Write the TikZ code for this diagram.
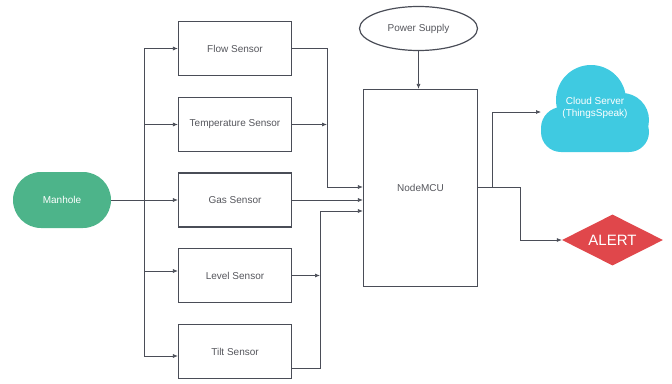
\documentclass[tikz,border=0pt]{standalone}
\usepackage{fontspec}
\setmainfont{Liberation Sans}
\usetikzlibrary{shapes.geometric,arrows.meta}
\definecolor{linegray}{HTML}{4A4D57}
\definecolor{textgray}{HTML}{55565C}
\definecolor{manholegreen}{HTML}{4DB48A}
\definecolor{cloudcyan}{HTML}{3FCAE1}
\definecolor{alertred}{HTML}{E0474B}
\begin{document}
\begin{tikzpicture}[x=1pt,y=-1pt,
  font=\fontsize{10}{12}\selectfont,
  sensorbox/.style={draw=linegray,line width=1.2pt,minimum width=113pt,minimum height=54pt,text=textgray},
  wire/.style={draw=linegray,line width=0.7pt},
  arr/.style={wire,-{Latex[length=5pt,width=4pt]}}]
\useasboundingbox (0,0) rectangle (672,383);

% source and sensors
\node[fill=manholegreen,rounded corners=28pt,minimum width=98pt,minimum height=56pt,text=white] (manhole) at (62,200) {Manhole};
\node[sensorbox] (flow) at (235,48.5) {Flow Sensor};
\node[sensorbox] (temp) at (235,124.5) {Temperature Sensor};
\node[sensorbox] (gas) at (235,200) {Gas Sensor};
\node[sensorbox] (level) at (235,275.5) {Level Sensor};
\node[sensorbox] (tilt) at (235,351.5) {Tilt Sensor};

% controller and power
\node[draw=linegray,line width=1.2pt,minimum width=114pt,minimum height=197pt,text=textgray] (mcu) at (420.5,188) {NodeMCU};
\node[ellipse,draw=linegray,line width=1.2pt,minimum width=118pt,minimum height=44pt,text=textgray] (power) at (418.5,28.5) {Power Supply};

% cloud
\fill[cloudcyan] (591,100) circle (35) (622,120) circle (27) (562,128) circle (21);
\fill[cloudcyan,rounded corners=20pt] (541,112) rectangle (649,152);
\node[text=white,align=center] (cloud) at (595,108) {Cloud Server\\(ThingsSpeak)};
\coordinate (cloudin) at (541,112);

% alert
\node[diamond,aspect=1.95,fill=alertred,minimum width=101pt,minimum height=51pt,inner sep=0pt,text=white,font=\fontsize{15}{18}\selectfont] (alert) at (612.5,240) {ALERT};

% manhole to sensors
\coordinate (busx) at (144,0);
\draw[arr] (manhole.east) -- (manhole.east -| gas.west);
\draw[wire] (busx |- flow.west) -- ([yshift=-4.5pt]busx |- tilt.west);
\draw[arr] (busx |- flow.west) -- (flow.west);
\draw[arr] (busx |- temp.west) -- (temp.west);
\draw[arr] ([yshift=4.5pt]busx |- level.west) -- ([yshift=4.5pt]level.west);
\draw[arr] ([yshift=-4.5pt]busx |- tilt.west) -- ([yshift=-4.5pt]tilt.west);

% sensors to controller
\coordinate (mergeA) at (327,187);
\coordinate (mergeB) at (320,211);
\draw[arr] (flow.east) -| (mergeA) -- (mergeA -| mcu.west);
\draw[arr] (temp.east) -- (temp.east -| mergeA);
\draw[arr] (gas.east) -- (gas.east -| mcu.west);
\draw[arr] ([yshift=-16.5pt]tilt.east) -| (mergeB) -- (mergeB -| mcu.west);
\draw[arr] (level.east) -- (level.east -| mergeB);
\draw[arr] (power.south) -- (power.south |- mcu.north);

% controller outputs
\coordinate (split) at (492,187);
\coordinate (turn) at (520,240);
\draw[arr] (mcu.east |- split) -| (turn) -- (alert.west);
\draw[arr] (split) |- (cloudin);
\end{tikzpicture}
\end{document}
